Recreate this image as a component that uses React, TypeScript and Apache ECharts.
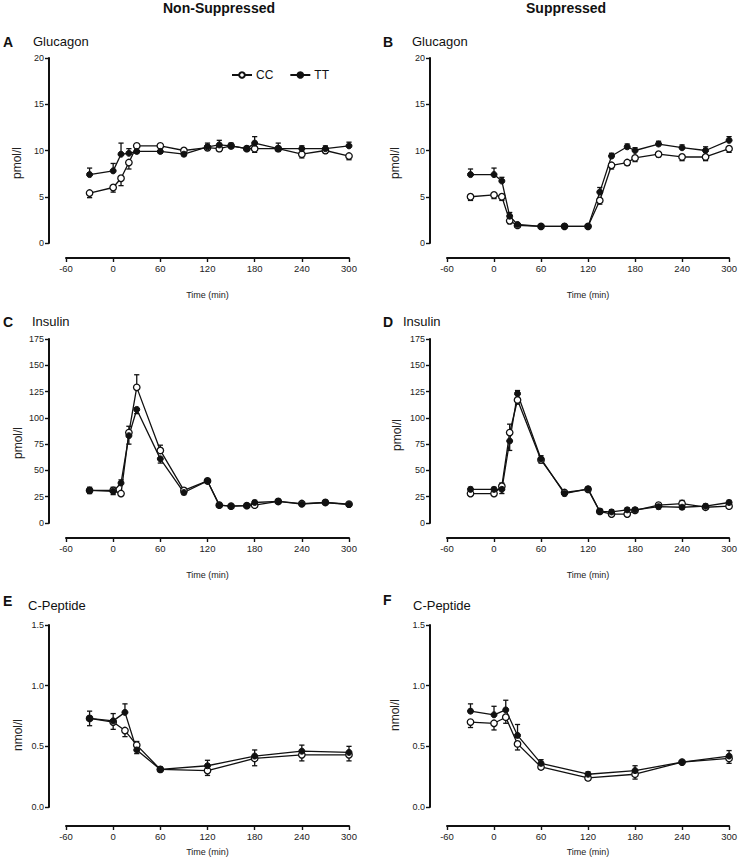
import React, { useEffect, useRef } from "react";
import * as echarts from "echarts";

// Time points (min)
const glucTimes = [-30, 0, 10, 20, 30, 60, 90, 120, 135, 150, 170, 180, 210, 240, 270, 300];
const insTimes = [-30, 0, 10, 20, 30, 60, 90, 120, 135, 150, 170, 180, 210, 240, 270, 300];
const cpepTimes = [-30, 0, 15, 30, 60, 120, 180, 240, 300];
const xTicks = [-60, 0, 60, 120, 180, 240, 300];

// A: Glucagon, Non-Suppressed (pmol/l)
const glucNonCC = [5.4, 6.0, 7.0, 8.7, 10.5, 10.5, 10.0, 10.3, 10.2, 10.5, 10.2, 10.2, 10.2, 9.6, 10.0, 9.4];
const glucNonTT = [7.4, 7.8, 9.6, 9.7, 9.9, 9.9, 9.6, 10.4, 10.6, 10.5, 10.2, 10.8, 10.2, 10.2, 10.2, 10.5];
const glucNonCCsem = [0.5, 0.5, 0.8, 0.7, 0.2, 0.2, 0.2, 0.3, 0.3, 0.2, 0.2, 0.4, 0.3, 0.4, 0.3, 0.4];
const glucNonTTsem = [0.7, 0.8, 1.2, 0.5, 0.2, 0.2, 0.2, 0.4, 0.5, 0.3, 0.2, 0.7, 0.6, 0.3, 0.3, 0.4];

// B: Glucagon, Suppressed (pmol/l)
const glucSupCC = [5.0, 5.2, 5.0, 2.4, 1.9, 1.8, 1.8, 1.8, 4.6, 8.4, 8.7, 9.2, 9.6, 9.3, 9.3, 10.2];
const glucSupTT = [7.4, 7.4, 6.7, 2.9, 2.0, 1.8, 1.8, 1.8, 5.5, 9.4, 10.4, 10.0, 10.7, 10.3, 10.0, 11.1];
const glucSupCCsem = [0.4, 0.4, 0.4, 0.3, 0.1, 0.1, 0.1, 0.1, 0.4, 0.4, 0.3, 0.4, 0.3, 0.4, 0.4, 0.4];
const glucSupTTsem = [0.6, 0.7, 0.4, 0.4, 0.1, 0.1, 0.1, 0.1, 0.5, 0.3, 0.3, 0.3, 0.3, 0.3, 0.4, 0.4];

// C: Insulin, Non-Suppressed (pmol/l)
const insNonCC = [31, 31, 28, 86, 129, 69, 31, 40, 17, 16, 16.5, 17, 20.5, 18.5, 19.5, 18];
const insNonTT = [31, 30, 38, 83, 108, 61, 29, 40, 17, 16, 16.5, 19.5, 20.5, 18, 19.5, 17.5];
const insNonCCsem = [3, 3, 2, 6, 12, 5, 2, 2, 2, 1.5, 1.5, 2, 2, 1.5, 2, 1.5];
const insNonTTsem = [3, 3, 3, 8, 4, 4, 2, 2, 2, 1.5, 1.5, 2, 2, 1.5, 2, 1.5];

// D: Insulin, Suppressed (pmol/l)
const insSupCC = [28, 28, 35, 86, 117, 60, 29, 32, 11, 8.5, 8.5, 12, 17, 18.5, 15, 16];
const insSupTT = [32, 32, 32, 78, 123, 61, 28, 32.5, 11, 10.5, 12.5, 12.5, 15.5, 15, 16, 19.5];
const insSupCCsem = [2, 2, 3, 8, 4, 3, 2, 2, 2, 2, 2, 2, 2, 3, 2, 2];
const insSupTTsem = [2, 2, 4, 9, 3, 3, 2, 2, 2, 2, 2, 2, 2, 2, 2, 2];

// E: C-Peptide, Non-Suppressed (nmol/l)
const cpepNonCC = [0.73, 0.7, 0.63, 0.51, 0.31, 0.3, 0.4, 0.43, 0.43];
const cpepNonTT = [0.73, 0.71, 0.78, 0.47, 0.31, 0.34, 0.42, 0.46, 0.45];
const cpepNonCCsem = [0.06, 0.06, 0.05, 0.03, 0.02, 0.04, 0.06, 0.05, 0.05];
const cpepNonTTsem = [0.06, 0.06, 0.07, 0.03, 0.02, 0.045, 0.05, 0.05, 0.05];

// F: C-Peptide, Suppressed (nmol/l)
const cpepSupCC = [0.7, 0.69, 0.74, 0.52, 0.33, 0.24, 0.27, 0.37, 0.4];
const cpepSupTT = [0.79, 0.76, 0.8, 0.59, 0.36, 0.27, 0.3, 0.37, 0.42];
const cpepSupCCsem = [0.045, 0.055, 0.05, 0.05, 0.02, 0.02, 0.04, 0.01, 0.04];
const cpepSupTTsem = [0.06, 0.07, 0.08, 0.09, 0.03, 0.02, 0.04, 0.01, 0.045];

const INK = "#111";
const FONT = "Arial, 'Liberation Sans', Helvetica, sans-serif";

type Panel = {
  letter: string;
  name: string;
  unit: string;
  times: number[];
  cc: number[];
  tt: number[];
  ccSem: number[];
  ttSem: number[];
  yMax: number;
  yInterval: number;
  decimals: number;
  left: number;
  top: number;
  height: number;
  xOffset: number;
  nameGap: number;
  letterX: number;
  letterY: number;
  nameX: number;
  nameY: number;
  unitX: number;
  unitY: number;
};

const panels: Panel[] = [
  { letter: "A", name: "Glucagon", unit: "pmol/l", times: glucTimes, cc: glucNonCC, tt: glucNonTT, ccSem: glucNonCCsem, ttSem: glucNonTTsem, yMax: 20, yInterval: 5, decimals: 0, left: 66, top: 58, height: 185, xOffset: 15, nameGap: 32, letterX: 3, letterY: 43, nameX: 33, nameY: 43, unitX: 17, unitY: 163 },
  { letter: "B", name: "Glucagon", unit: "pmol/l", times: glucTimes, cc: glucSupCC, tt: glucSupTT, ccSem: glucSupCCsem, ttSem: glucSupTTsem, yMax: 20, yInterval: 5, decimals: 0, left: 447, top: 58, height: 185, xOffset: 15, nameGap: 32, letterX: 383, letterY: 43, nameX: 412, nameY: 43, unitX: 395, unitY: 163 },
  { letter: "C", name: "Insulin", unit: "pmol/l", times: insTimes, cc: insNonCC, tt: insNonTT, ccSem: insNonCCsem, ttSem: insNonTTsem, yMax: 175, yInterval: 25, decimals: 0, left: 66, top: 339, height: 184, xOffset: 15, nameGap: 32, letterX: 3, letterY: 323, nameX: 32, nameY: 323, unitX: 18, unitY: 443 },
  { letter: "D", name: "Insulin", unit: "pmol/l", times: insTimes, cc: insSupCC, tt: insSupTT, ccSem: insSupCCsem, ttSem: insSupTTsem, yMax: 175, yInterval: 25, decimals: 0, left: 447, top: 339, height: 184, xOffset: 15, nameGap: 32, letterX: 383, letterY: 323, nameX: 403, nameY: 323, unitX: 397, unitY: 435 },
  { letter: "E", name: "C-Peptide", unit: "nmol/l", times: cpepTimes, cc: cpepNonCC, tt: cpepNonTT, ccSem: cpepNonCCsem, ttSem: cpepNonTTsem, yMax: 1.5, yInterval: 0.5, decimals: 1, left: 66, top: 625, height: 182, xOffset: 19, nameGap: 21, letterX: 3, letterY: 602, nameX: 28, nameY: 607, unitX: 18, unitY: 735 },
  { letter: "F", name: "C-Peptide", unit: "nmol/l", times: cpepTimes, cc: cpepSupCC, tt: cpepSupTT, ccSem: cpepSupCCsem, ttSem: cpepSupTTsem, yMax: 1.5, yInterval: 0.5, decimals: 1, left: 447, top: 625, height: 182, xOffset: 19, nameGap: 21, letterX: 383, letterY: 601, nameX: 413, nameY: 607, unitX: 395, unitY: 715 },
];

const PLOT_W = 283;

function errRender(params: any, api: any) {
  const x = api.value(0);
  const y = api.value(1);
  const e = api.value(2);
  const d = api.value(3);
  const p0 = api.coord([x, y]);
  const p1 = api.coord([x, y + d * e]);
  const st = { stroke: INK, lineWidth: 1.3 };
  return {
    type: "group",
    children: [
      { type: "line", shape: { x1: p0[0], y1: p0[1], x2: p1[0], y2: p1[1] }, style: st },
      { type: "line", shape: { x1: p1[0] - 2.6, y1: p1[1], x2: p1[0] + 2.6, y2: p1[1] }, style: st },
    ],
  };
}

function buildOption() {
  const grid: any[] = [];
  const xAxis: any[] = [];
  const yAxis: any[] = [];
  const series: any[] = [];
  const graphic: any[] = [
    { type: "text", left: 163, top: 1, style: { text: "Non-Suppressed", font: `bold 14px ${FONT}`, fill: INK } },
    { type: "text", left: 526, top: 1, style: { text: "Suppressed", font: `bold 14px ${FONT}`, fill: INK } },
  ];

  panels.forEach((p, i) => {
    grid.push({ left: p.left, top: p.top, width: PLOT_W, height: p.height, containLabel: false });
    xAxis.push({
      type: "value",
      gridIndex: i,
      min: xTicks[0],
      max: xTicks[xTicks.length - 1],
      interval: 60,
      position: "bottom",
      offset: p.xOffset,
      name: "Time (min)",
      nameLocation: "middle",
      nameGap: p.nameGap,
      nameTextStyle: { fontSize: 9, color: "#222", fontFamily: FONT },
      axisLine: { show: true, onZero: false, lineStyle: { color: INK, width: 2 } },
      axisTick: { show: true, length: 4, lineStyle: { color: INK, width: 1.4 } },
      axisLabel: { fontSize: 9.5, color: "#222", margin: 5, fontFamily: FONT },
      splitLine: { show: false },
    });
    yAxis.push({
      type: "value",
      gridIndex: i,
      min: 0,
      max: p.yMax,
      interval: p.yInterval,
      offset: 17,
      axisLine: { show: true, onZero: false, lineStyle: { color: INK, width: 2 } },
      axisTick: { show: true, length: 4, lineStyle: { color: INK, width: 1.4 } },
      axisLabel: {
        fontSize: 9,
        color: "#222",
        margin: 5,
        fontFamily: FONT,
        formatter: (v: number) => v.toFixed(p.decimals),
      },
      splitLine: { show: false },
    });

    const ccData = p.times.map((t, k) => [t, p.cc[k]]);
    const ttData = p.times.map((t, k) => [t, p.tt[k]]);
    const ccErr = p.times.map((t, k) => [t, p.cc[k], p.ccSem[k], p.cc[k] > p.tt[k] ? 1 : -1]);
    const ttErr = p.times.map((t, k) => [t, p.tt[k], p.ttSem[k], p.cc[k] > p.tt[k] ? -1 : 1]);

    series.push({
      type: "custom",
      name: "ccErr",
      xAxisIndex: i,
      yAxisIndex: i,
      renderItem: errRender,
      encode: { x: 0, y: 1 },
      data: ccErr,
      z: 1,
      silent: true,
    });
    series.push({
      type: "custom",
      name: "ttErr",
      xAxisIndex: i,
      yAxisIndex: i,
      renderItem: errRender,
      encode: { x: 0, y: 1 },
      data: ttErr,
      z: 1,
      silent: true,
    });
    series.push({
      type: "line",
      name: "CC",
      xAxisIndex: i,
      yAxisIndex: i,
      data: ccData,
      symbol: "circle",
      symbolSize: 6.5,
      showSymbol: true,
      lineStyle: { color: INK, width: 1.3 },
      itemStyle: { color: "#fff", borderColor: INK, borderWidth: 1.3 },
      z: 3,
    });
    series.push({
      type: "line",
      name: "TT",
      xAxisIndex: i,
      yAxisIndex: i,
      data: ttData,
      symbol: "circle",
      symbolSize: 6,
      showSymbol: true,
      lineStyle: { color: INK, width: 1.3 },
      itemStyle: { color: INK, borderColor: INK, borderWidth: 1 },
      z: 3,
    });

    graphic.push({
      type: "text",
      left: p.letterX,
      top: p.letterY - 8,
      style: { text: p.letter, font: `bold 14px ${FONT}`, fill: INK },
    });
    graphic.push({
      type: "text",
      left: p.nameX,
      top: p.nameY - 8,
      style: { text: p.name, font: `13px ${FONT}`, fill: INK },
    });
    graphic.push({
      type: "text",
      x: p.unitX,
      y: p.unitY,
      rotation: Math.PI / 2,
      style: {
        text: p.unit,
        font: `12px ${FONT}`,
        fill: "#222",
        align: "center",
        verticalAlign: "middle",
      },
    });
  });

  return {
    animation: false,
    backgroundColor: "#fff",
    grid,
    xAxis,
    yAxis,
    series,
    graphic,
    legend: {
      data: ["CC", "TT"],
      left: 226,
      top: 64,
      itemWidth: 20,
      itemHeight: 7,
      itemGap: 16,
      textStyle: { fontSize: 12, color: INK, fontFamily: FONT, padding: [0, 0, 0, -1] },
      selectedMode: false,
    },
  };
}

export default function App() {
  const ref = useRef<HTMLDivElement>(null);
  useEffect(() => {
    if (!ref.current) return;
    const chart = echarts.init(ref.current, undefined, { renderer: "svg" });
    chart.setOption(buildOption() as any);
    return () => chart.dispose();
  }, []);
  return (
    <div
      ref={ref}
      style={{ position: "fixed", left: 0, top: 0, width: 740, height: 862, background: "#fff" }}
    />
  );
}
